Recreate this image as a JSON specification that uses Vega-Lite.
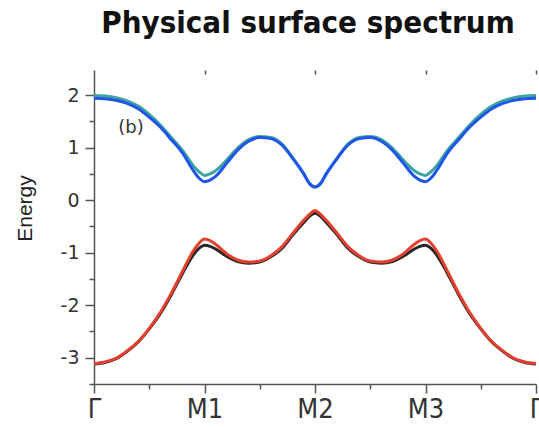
{
  "$schema": "https://vega.github.io/schema/vega-lite/v6.json",
  "width": 442,
  "height": 310,
  "autosize": "none",
  "padding": {"left": 94, "top": 74, "right": 3, "bottom": 43},
  "background": "white",
  "config": {"view": {"stroke": null}, "axis": {"grid": false}},
  "title": {
    "text": "Physical surface spectrum",
    "font": "Liberation Sans Narrow, DejaVu Sans Condensed, Open Sans",
    "fontSize": 31,
    "fontWeight": "bold",
    "color": "#111111",
    "anchor": "middle",
    "baseline": "alphabetic",
    "offset": 5,
    "dx": -7
  },
  "datasets": {
    "bands": [
      {"x": 0.0, "blue": 1.94, "teal": 1.99, "black": -3.12, "red": -3.11},
      {"x": 0.1, "blue": 1.93, "teal": 1.98, "black": -3.09, "red": -3.08},
      {"x": 0.2, "blue": 1.90, "teal": 1.95, "black": -3.02, "red": -3.01},
      {"x": 0.3, "blue": 1.84, "teal": 1.89, "black": -2.88, "red": -2.87},
      {"x": 0.4, "blue": 1.74, "teal": 1.79, "black": -2.70, "red": -2.69},
      {"x": 0.5, "blue": 1.58, "teal": 1.63, "black": -2.45, "red": -2.44},
      {"x": 0.6, "blue": 1.39, "teal": 1.43, "black": -2.16, "red": -2.14},
      {"x": 0.7, "blue": 1.15, "teal": 1.19, "black": -1.80, "red": -1.77},
      {"x": 0.8, "blue": 0.90, "teal": 0.95, "black": -1.40, "red": -1.36},
      {"x": 0.9, "blue": 0.56, "teal": 0.65, "black": -1.04, "red": -0.96},
      {"x": 0.95, "blue": 0.42, "teal": 0.54, "black": -0.92, "red": -0.82},
      {"x": 1.0, "blue": 0.35, "teal": 0.47, "black": -0.86, "red": -0.74},
      {"x": 1.05, "blue": 0.38, "teal": 0.50, "black": -0.88, "red": -0.77},
      {"x": 1.1, "blue": 0.45, "teal": 0.56, "black": -0.93, "red": -0.84},
      {"x": 1.2, "blue": 0.70, "teal": 0.76, "black": -1.07, "red": -1.02},
      {"x": 1.3, "blue": 0.95, "teal": 0.99, "black": -1.17, "red": -1.14},
      {"x": 1.4, "blue": 1.12, "teal": 1.15, "black": -1.20, "red": -1.18},
      {"x": 1.5, "blue": 1.19, "teal": 1.21, "black": -1.18, "red": -1.16},
      {"x": 1.6, "blue": 1.17, "teal": 1.19, "black": -1.08, "red": -1.06},
      {"x": 1.7, "blue": 1.05, "teal": 1.07, "black": -0.92, "red": -0.89},
      {"x": 1.8, "blue": 0.79, "teal": 0.80, "black": -0.66, "red": -0.63},
      {"x": 1.9, "blue": 0.49, "teal": 0.50, "black": -0.42, "red": -0.38},
      {"x": 1.95, "blue": 0.31, "teal": 0.32, "black": -0.31, "red": -0.27},
      {"x": 2.0, "blue": 0.25, "teal": 0.25, "black": -0.25, "red": -0.20},
      {"x": 2.05, "blue": 0.31, "teal": 0.32, "black": -0.31, "red": -0.27},
      {"x": 2.1, "blue": 0.49, "teal": 0.50, "black": -0.42, "red": -0.38},
      {"x": 2.2, "blue": 0.79, "teal": 0.80, "black": -0.66, "red": -0.63},
      {"x": 2.3, "blue": 1.05, "teal": 1.07, "black": -0.92, "red": -0.89},
      {"x": 2.4, "blue": 1.17, "teal": 1.19, "black": -1.08, "red": -1.06},
      {"x": 2.5, "blue": 1.19, "teal": 1.21, "black": -1.18, "red": -1.16},
      {"x": 2.6, "blue": 1.12, "teal": 1.15, "black": -1.20, "red": -1.18},
      {"x": 2.7, "blue": 0.95, "teal": 0.99, "black": -1.17, "red": -1.14},
      {"x": 2.8, "blue": 0.70, "teal": 0.76, "black": -1.07, "red": -1.02},
      {"x": 2.9, "blue": 0.45, "teal": 0.56, "black": -0.93, "red": -0.84},
      {"x": 2.95, "blue": 0.38, "teal": 0.50, "black": -0.88, "red": -0.77},
      {"x": 3.0, "blue": 0.35, "teal": 0.47, "black": -0.86, "red": -0.74},
      {"x": 3.05, "blue": 0.42, "teal": 0.54, "black": -0.92, "red": -0.82},
      {"x": 3.1, "blue": 0.56, "teal": 0.65, "black": -1.04, "red": -0.96},
      {"x": 3.2, "blue": 0.90, "teal": 0.95, "black": -1.40, "red": -1.36},
      {"x": 3.3, "blue": 1.15, "teal": 1.19, "black": -1.80, "red": -1.77},
      {"x": 3.4, "blue": 1.39, "teal": 1.43, "black": -2.16, "red": -2.14},
      {"x": 3.5, "blue": 1.58, "teal": 1.63, "black": -2.45, "red": -2.44},
      {"x": 3.6, "blue": 1.74, "teal": 1.79, "black": -2.70, "red": -2.69},
      {"x": 3.7, "blue": 1.84, "teal": 1.89, "black": -2.88, "red": -2.87},
      {"x": 3.8, "blue": 1.90, "teal": 1.95, "black": -3.02, "red": -3.01},
      {"x": 3.9, "blue": 1.93, "teal": 1.98, "black": -3.09, "red": -3.08},
      {"x": 4.0, "blue": 1.94, "teal": 1.99, "black": -3.12, "red": -3.11}
    ],
    "note": [{"x": 0.335, "E": 1.37, "label": "(b)"}]
  },
  "layer": [
    {
      "data": {"name": "bands"},
      "transform": [{"fold": ["teal", "blue", "black", "red"], "as": ["band", "E"]}],
      "mark": {"type": "line", "interpolate": "monotone", "strokeWidth": 3},
      "encoding": {
        "x": {
          "field": "x",
          "type": "quantitative",
          "scale": {"domain": [0, 4], "nice": false, "zero": false},
          "axis": {
            "title": null,
            "values": [0, 0.5, 1, 1.5, 2, 2.5, 3, 3.5, 4],
            "tickSize": {"expr": "((datum.value % 1 === 0) ? 9 : 5)"},
            "labelExpr": "datum.value === 0 || datum.value === 4 ? 'Γ' : datum.value === 1 ? 'M1' : datum.value === 2 ? 'M2' : datum.value === 3 ? 'M3' : ''",
            "labelFont": "Liberation Sans Narrow, DejaVu Sans Condensed, Liberation Sans",
            "labelFontSize": 27,
            "labelColor": "#333333",
            "labelPadding": 3,
            "labelFlush": false,
            "labelOverlap": false,
            "domainColor": "#555555",
            "domainWidth": 1.5,
            "tickColor": "#555555",
            "tickWidth": 1.5
          }
        },
        "y": {
          "field": "E",
          "type": "quantitative",
          "scale": {"domain": [-3.5, 2.4], "nice": false, "zero": false},
          "axis": {
            "title": "Energy",
            "titleFont": "Liberation Sans",
            "titleFontSize": 21,
            "titleFontWeight": "normal",
            "titleColor": "#222222",
            "titleX": -69,
            "titleY": 134,
            "titleAlign": "center",
            "titleBaseline": "middle",
            "values": [-3, -2, -1, 0, 1, 2],
            "labelExpr": "datum.value < 0 ? '-' + abs(datum.value) : '' + datum.value",
            "tickSize": 9,
            "labelFont": "DejaVu Sans",
            "labelFontSize": 19,
            "labelColor": "#333333",
            "labelPadding": 6,
            "labelOverlap": false,
            "labelFlush": false,
            "domainColor": "#555555",
            "domainWidth": 1.5,
            "tickColor": "#555555",
            "tickWidth": 1.5
          }
        },
        "color": {
          "field": "band",
          "type": "nominal",
          "scale": {"domain": ["teal", "blue", "black", "red"], "range": ["#3fa3a0", "#1f55e8", "#262626", "#e5402f"]},
          "legend": null
        }
      }
    },
    {
      "data": {"name": "note"},
      "mark": {"type": "text", "font": "DejaVu Sans", "fontSize": 18, "color": "#333333"},
      "encoding": {
        "x": {
          "field": "x",
          "type": "quantitative",
          "axis": {
            "orient": "top",
            "title": null,
            "labels": false,
            "domain": false,
            "values": [0, 1, 2, 3, 4],
            "tickSize": 4,
            "tickColor": "#555555",
            "tickWidth": 1.5
          }
        },
        "y": {
          "field": "E",
          "type": "quantitative",
          "axis": {
            "orient": "left",
            "title": null,
            "labels": false,
            "domain": false,
            "values": [-3.5, -2.5, -1.5, -0.5, 0.5, 1.5],
            "tickSize": 5,
            "tickColor": "#555555",
            "tickWidth": 1.5
          }
        },
        "text": {"field": "label"}
      }
    }
  ],
  "resolve": {"axis": {"x": "independent", "y": "independent"}}
}
